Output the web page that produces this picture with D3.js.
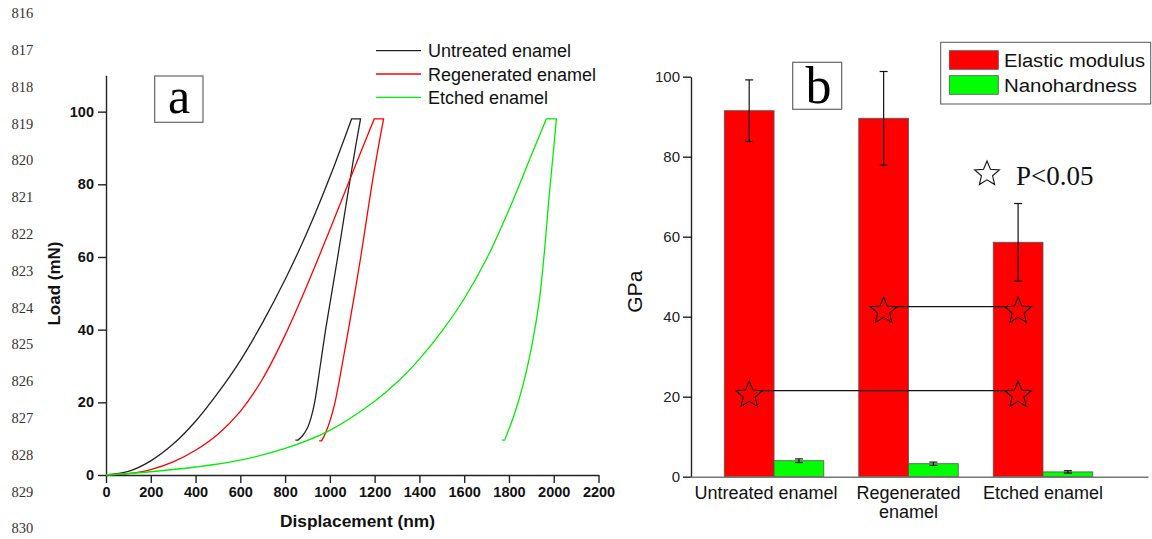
<!DOCTYPE html>
<html>
<head>
<meta charset="utf-8">
<script src="https://cdn.jsdelivr.net/npm/d3@7"></script>
<style>
  body { margin: 0; background: #fff; }
  svg { display: block; font-family: "Liberation Sans", Arial, sans-serif; }
</style>
</head>
<body>
<svg width="1152" height="539"></svg>
<script>
// ---- data: panel a (load-displacement curves, [nm, mN]) ----
const untreatedCurve = [[0,0],[100,1],[200,3.9],[300,8.5],[400,14.8],[500,22.6],[600,31.5],[700,42],[800,53.8],[900,67],[1000,82],[1097,98],
  [1137,98],[1114,90],[1087,80],[1061,70],[1035,60],[1008,50],[981,40],[957,30],[932,20],[917,16],[900,13],[878,10.8],[857,9.6],[846,9.6]]
const regeneratedCurve = [[0,0],[100,0.4],[200,1.5],[300,3.6],[400,6.8],[500,11.2],[600,17.5],[700,26.5],[800,38.5],[900,52.5],[1000,67.5],[1100,83],[1198,98],
  [1240,98],[1216,90],[1188,80],[1163,70],[1138,60],[1111,50],[1083,40],[1054,30],[1023,20],[1006,16],[990,13],[975,10.8],[963,9.4],[952,9.4]]
const etchedCurve = [[0,0],[200,0.9],[400,2.2],[600,4.1],[800,7.3],[1000,12.3],[1200,20.3],[1300,25.5],[1400,31.9],[1500,39.5],[1600,48.5],[1700,59.5],[1800,73],[1900,88],[1967,98],
  [2012,98],[1995,86.7],[1978,75.7],[1959,61.9],[1936,48.2],[1907,37.2],[1865,25.3],[1823,16.5],[1781,9.6],[1768,9.6]]
const curveNames = ["Untreated enamel","Regenerated enamel","Etched enamel"]
const curveColors = ["#222","#ff0000","#00ee00"]
const loadTicks = [0,20,40,60,80,100]
const dispTicks = [0,200,400,600,800,1000,1200,1400,1600,1800,2000,2200]

// ---- data: panel b (bars, GPa) ----
const groups = ["Untreated enamel","Regenerated enamel","Etched enamel"]
const measures = ["Elastic modulus","Nanohardness"]
const modulus = [91.5, 89.6, 58.6]
const modulusErr = [7.7, 11.7, 9.7]
const hardness = [4.0, 3.25, 1.2]
const hardnessErr = [0.45, 0.4, 0.3]
const gpaTicks = [0,20,40,60,80,100]
// significance pairs: [from group, to group, line value, star value]
const sigPairs = [["Untreated enamel","Etched enamel",21.5,20.4],["Regenerated enamel","Etched enamel",42.5,41.4]]

const lineNumbers = d3.range(816, 831)

const svg = d3.select("svg")

// manuscript line numbers
const lnScale = d3.scaleLinear().domain([816,830]).range([18.3,533.3])
svg.selectAll("text.ln")
  .data(lineNumbers)
  .enter()
  .append("text")
  .attr("class","ln")
  .attr("x",11.5)
  .attr("y",d => lnScale(d))
  .attr("font-family","'Liberation Serif', 'Times New Roman', serif")
  .attr("font-size",14.5)
  .attr("fill","#333")
  .text(d => d)

// ================= panel a =================
const xA = d3.scaleLinear().domain([0,2200]).range([106,598.5])
const yA = d3.scaleLinear().domain([0,110]).range([475,75.3])

const gA = svg.append("g")

const axisXA = gA.append("g").attr("transform","translate(0,475)")
axisXA.call(d3.axisBottom(xA).tickValues(d3.range(100,2200,200)).tickSize(4).tickFormat("").tickSizeOuter(0))
axisXA.call(d3.axisBottom(xA).tickValues(dispTicks).tickFormat(d3.format("d")).tickSize(8).tickSizeOuter(0).tickPadding(4))

const axisYA = gA.append("g").attr("transform","translate(106,0)")
axisYA.call(d3.axisLeft(yA).tickValues(d3.range(10,111,20)).tickSize(4).tickFormat("").tickSizeOuter(0))
axisYA.call(d3.axisLeft(yA).tickValues(loadTicks).tickSize(8).tickSizeOuter(0).tickPadding(4))

gA.selectAll(".domain, .tick line").attr("stroke","#222").attr("stroke-width",1.4)
gA.selectAll(".tick text")
  .attr("font-family","'Liberation Sans', Arial, sans-serif")
  .attr("font-size",14.5)
  .attr("font-weight","bold")
  .attr("fill","#111")

gA.append("text")
  .attr("transform","translate(59.5,283.5) rotate(-90)")
  .attr("text-anchor","middle")
  .attr("font-size",17)
  .attr("font-weight","bold")
  .attr("fill","#111")
  .text("Load (mN)")

gA.append("text")
  .attr("x",280)
  .attr("y",527)
  .attr("textLength",155)
  .attr("lengthAdjust","spacingAndGlyphs")
  .attr("font-size",17)
  .attr("font-weight","bold")
  .attr("fill","#111")
  .text("Displacement (nm)")

// loading and unloading branches are smoothed, the hold and the tail are straight
const smooth = d3.line().x(d => xA(d[0])).y(d => yA(d[1])).curve(d3.curveCatmullRom.alpha(0.5))
const curvePath = function(d){
  const peak = d3.max(d, p => p[1])
  const iPeak = d.findIndex(p => p[1] === peak)
  const loading = d.slice(0, iPeak + 1)
  const unloading = d.slice(iPeak + 1, d.length - 1)
  const last = d[d.length - 1]
  return smooth(loading) + smooth(unloading).replace(/^M/, "L") + `L${xA(last[0])},${yA(last[1])}`
}
const curves = [untreatedCurve, regeneratedCurve, etchedCurve]
gA.selectAll("path.curve")
  .data(curves)
  .enter()
  .append("path")
  .attr("class","curve")
  .attr("d",d => curvePath(d))
  .attr("fill","none")
  .attr("stroke",(d,i) => curveColors[i])
  .attr("stroke-width",1.3)

// legend a
const legA = gA.selectAll("g.leg")
  .data(curveNames)
  .enter()
  .append("g")
  .attr("class","leg")
  .attr("transform",(d,i) => `translate(376,${50.7 + i*23.3})`)
legA.append("line")
  .attr("x1",0).attr("x2",45)
  .attr("stroke",(d,i) => curveColors[i])
  .attr("stroke-width",1.3)
legA.append("text")
  .attr("x",52)
  .attr("y",6.5)
  .attr("font-size",18)
  .attr("fill","#111")
  .text(d => d)

// label a
gA.append("rect")
  .attr("x",154.7).attr("y",76)
  .attr("width",48.3).attr("height",46.3)
  .attr("fill","#fff").attr("stroke","#666").attr("stroke-width",1.2)
gA.append("text")
  .attr("x",179).attr("y",113.3)
  .attr("text-anchor","middle")
  .attr("font-family","'Liberation Serif', 'Times New Roman', serif")
  .attr("font-size",50)
  .attr("fill","#000")
  .text("a")

// ================= panel b =================
const x0 = d3.scaleBand().domain(groups).range([690,1148]).paddingInner(0.26).paddingOuter(0.333).align(0.383)
const x1 = d3.scaleBand().domain(measures).range([0,x0.bandwidth()])
const yB = d3.scaleLinear().domain([0,100]).range([476.7,76.7])
const barColors = {"Elastic modulus":"#ff0000","Nanohardness":"#00ff00"}

const gB = svg.append("g")

const barData = []
groups.forEach((g,i) => {
  barData.push({group:g, measure:"Elastic modulus", value:modulus[i], err:modulusErr[i]})
  barData.push({group:g, measure:"Nanohardness", value:hardness[i], err:hardnessErr[i]})
})

gB.selectAll("rect.bar")
  .data(barData)
  .enter()
  .append("rect")
  .attr("class","bar")
  .attr("x",d => x0(d.group) + x1(d.measure))
  .attr("y",d => yB(d.value))
  .attr("width",x1.bandwidth())
  .attr("height",d => yB(0) - yB(d.value))
  .attr("fill",d => barColors[d.measure])
  .attr("stroke","#555")
  .attr("stroke-width",0.8)

// error bars
const errG = gB.selectAll("g.err")
  .data(barData)
  .enter()
  .append("g")
  .attr("class","err")
  .attr("transform",d => `translate(${x0(d.group) + x1(d.measure) + x1.bandwidth()/2},0)`)
errG.append("line")
  .attr("y1",d => yB(d.value + d.err))
  .attr("y2",d => yB(d.value - d.err))
  .attr("stroke","#111").attr("stroke-width",1.2)
errG.append("line")
  .attr("x1",-4).attr("x2",4)
  .attr("y1",d => yB(d.value + d.err)).attr("y2",d => yB(d.value + d.err))
  .attr("stroke","#111").attr("stroke-width",1.2)
errG.append("line")
  .attr("x1",-4).attr("x2",4)
  .attr("y1",d => yB(d.value - d.err)).attr("y2",d => yB(d.value - d.err))
  .attr("stroke","#111").attr("stroke-width",1.2)

// significance lines and stars
const starPath = function(R, ratio){
  const pts = []
  for (let k = 0; k < 10; k++) {
    const r = k % 2 === 0 ? R : R*ratio
    const a = -Math.PI/2 + k*Math.PI/5
    pts.push([r*Math.cos(a), r*Math.sin(a)])
  }
  return "M" + pts.map(p => p[0].toFixed(2) + "," + p[1].toFixed(2)).join("L") + "Z"
}
const redCenter = g => x0(g) + x1("Elastic modulus") + x1.bandwidth()/2

gB.selectAll("line.sig")
  .data(sigPairs)
  .enter()
  .append("line")
  .attr("class","sig")
  .attr("x1",d => redCenter(d[0]))
  .attr("x2",d => redCenter(d[1]))
  .attr("y1",d => yB(d[2]))
  .attr("y2",d => yB(d[2]))
  .attr("stroke","#111").attr("stroke-width",1.2)

const starData = []
sigPairs.forEach(p => {
  starData.push({g:p[0], v:p[3]})
  starData.push({g:p[1], v:p[3]})
})
gB.selectAll("path.star")
  .data(starData)
  .enter()
  .append("path")
  .attr("class","star")
  .attr("transform",d => `translate(${redCenter(d.g)},${yB(d.v)})`)
  .attr("d",starPath(14,0.45))
  .attr("fill","#ff0000")
  .attr("stroke","#111").attr("stroke-width",1.1)

// P<0.05 note
gB.append("path")
  .attr("transform","translate(987,174)")
  .attr("d",starPath(13,0.45))
  .attr("fill","#fff")
  .attr("stroke","#111").attr("stroke-width",1.1)
gB.append("text")
  .attr("x",1016).attr("y",185)
  .attr("font-family","'Liberation Serif', 'Times New Roman', serif")
  .attr("font-size",27)
  .attr("fill","#111")
  .text("P<0.05")

// axes b
const axisYB = gB.append("g").attr("transform","translate(691,0)")
axisYB.call(d3.axisLeft(yB).tickValues(d3.range(10,100,20)).tickSize(5).tickFormat("").tickSizeOuter(0))
axisYB.call(d3.axisLeft(yB).tickValues(gpaTicks).tickSize(8).tickSizeOuter(0).tickPadding(3))
axisYB.selectAll(".domain, .tick line").attr("stroke","#222").attr("stroke-width",1.4)
axisYB.selectAll(".tick text")
  .attr("font-family","'Liberation Sans', Arial, sans-serif")
  .attr("font-size",15)
  .attr("fill","#222")

const axisXB = gB.append("g").attr("transform","translate(0,476.7)")
axisXB.call(d3.axisBottom(x0).tickSize(0).tickFormat("").tickSizeOuter(0))
axisXB.select(".domain").attr("stroke","#777").attr("stroke-width",1.6)

const catLabels = gB.selectAll("text.cat")
  .data(groups)
  .enter()
  .append("text")
  .attr("class","cat")
  .attr("text-anchor","middle")
  .attr("font-size",18)
  .attr("fill","#111")
catLabels.each(function(d){
  const cx = x0(d) + x0.bandwidth()/2
  const words = d === "Regenerated enamel" ? ["Regenerated","enamel"] : [d]
  d3.select(this).selectAll("tspan")
    .data(words)
    .enter()
    .append("tspan")
    .attr("x",cx - (d === "Untreated enamel" ? 8 : 0))
    .attr("y",(w,i) => 499.3 + i*19)
    .text(w => w)
})

gB.append("text")
  .attr("transform","translate(641.5,291.7) rotate(-90)")
  .attr("text-anchor","middle")
  .attr("font-size",21)
  .attr("fill","#111")
  .text("GPa")

// legend b
gB.append("rect")
  .attr("x",940.7).attr("y",42.3)
  .attr("width",210).attr("height",61.7)
  .attr("fill","#fff").attr("stroke","#555").attr("stroke-width",1)
const legB = gB.selectAll("g.legb")
  .data(measures)
  .enter()
  .append("g")
  .attr("class","legb")
  .attr("transform",(d,i) => `translate(949.3,${50.7 + i*25})`)
legB.append("rect")
  .attr("width",49).attr("height",18.6)
  .attr("fill",d => barColors[d])
  .attr("stroke","#555").attr("stroke-width",0.8)
legB.append("text")
  .attr("x",54.7).attr("y",16)
  .attr("font-size",18)
  .attr("textLength",(d,i) => i === 0 ? 141 : 133)
  .attr("lengthAdjust","spacingAndGlyphs")
  .attr("fill","#111")
  .text(d => d)

// label b
gB.append("rect")
  .attr("x",792.7).attr("y",62.3)
  .attr("width",49).attr("height",47)
  .attr("fill","#fff").attr("stroke","#666").attr("stroke-width",1.2)
gB.append("text")
  .attr("x",818.5).attr("y",103.3)
  .attr("text-anchor","middle")
  .attr("font-family","'Liberation Serif', 'Times New Roman', serif")
  .attr("font-size",52)
  .attr("fill","#000")
  .text("b")
</script>
</body>
</html>
